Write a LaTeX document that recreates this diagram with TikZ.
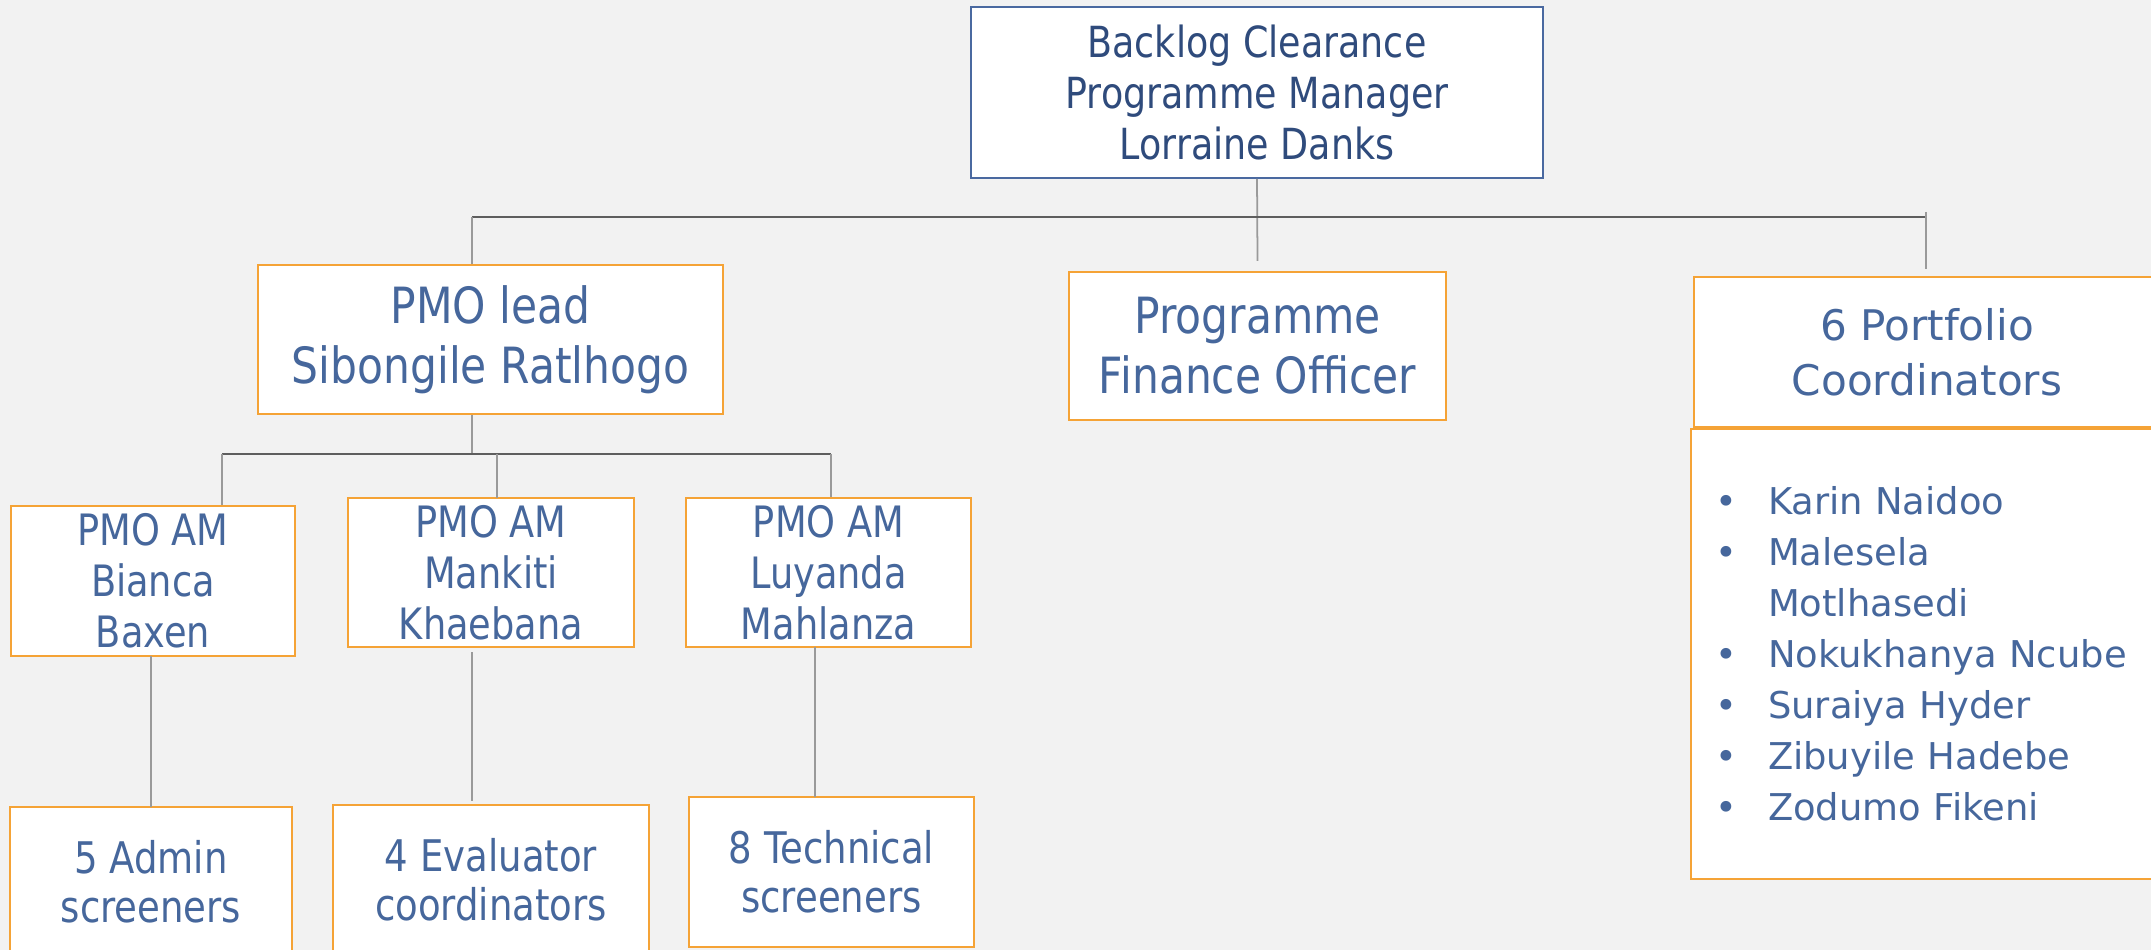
\documentclass[tikz,border=0pt]{standalone}
\usepackage{fontspec}
\setmainfont{DejaVu Sans}
\newfontfamily\narrowfont{DejaVu Sans}[FakeStretch=0.85]
\definecolor{bgcol}{HTML}{F2F2F2}
\definecolor{txtcol}{HTML}{46679C}
\definecolor{navycol}{HTML}{2F4B7C}
\definecolor{orangecol}{HTML}{F5A336}
\definecolor{topcol}{HTML}{4A69A0}
\definecolor{linecol}{HTML}{9A9A9A}
\definecolor{buscol}{HTML}{5E5E5E}
\begin{document}
\begin{tikzpicture}[
    box/.style={draw=orangecol, line width=0.6pt, fill=white, text=txtcol, align=center, inner sep=0pt},
    link/.style={draw=linecol, line width=0.5pt},
    bus/.style={draw=buscol, line width=0.8pt}]
\useasboundingbox (0,0) rectangle (21.51,-9.50);
\clip (0,0) rectangle (21.51,-9.50);
\fill[bgcol] (0,0) rectangle (21.51,-9.50);

%\draw[help lines] (0,0) grid (21.51,-9.50);

\node[box, draw=topcol, line width=0.5pt, text=navycol, minimum width=5.72cm, minimum height=1.71cm,
      font=\narrowfont\fontsize{12.2}{14.5}\selectfont] (top) at (12.57,-0.925)
      {Backlog Clearance\\Programme Manager\\Lorraine Danks};

\node[box, minimum width=4.65cm, minimum height=1.49cm,
      font=\narrowfont\fontsize{14.2}{17}\selectfont] (lead) at (4.905,-3.395)
      {PMO lead\\Sibongile Ratlhogo};
\node[box, minimum width=3.77cm, minimum height=1.48cm,
      font=\narrowfont\fontsize{14.2}{17}\selectfont] (fin) at (12.575,-3.46)
      {Programme\\Finance Officer};
\node[box, minimum width=4.66cm, minimum height=1.50cm,
      font=\fontsize{12}{15.6}\selectfont] (port) at (19.27,-3.52)
      {6 Portfolio\\Coordinators};
\node[box, align=left, minimum height=4.50cm, text width=4.21cm, inner xsep=0.24cm,
      font=\fontsize{10.5}{14.5}\selectfont] (names) at (19.255,-6.54)
      {\makebox[0.53cm][l]{•}Karin Naidoo\\
       \makebox[0.53cm][l]{•}Malesela\\
       \makebox[0.53cm][l]{}Motlhasedi\\
       \makebox[0.53cm][l]{•}Nokukhanya Ncube\\
       \makebox[0.53cm][l]{•}Suraiya Hyder\\
       \makebox[0.53cm][l]{•}Zibuyile Hadebe\\
       \makebox[0.53cm][l]{•}Zodumo Fikeni};

\node[box, minimum width=2.84cm, minimum height=1.50cm,
      font=\narrowfont\fontsize{12.3}{14.5}\selectfont] (bianca) at (1.53,-5.81)
      {PMO AM\\Bianca\\Baxen};
\node[box, minimum width=2.86cm, minimum height=1.49cm,
      font=\narrowfont\fontsize{12.3}{14.5}\selectfont] (mankiti) at (4.91,-5.725)
      {PMO AM\\Mankiti\\Khaebana};
\node[box, minimum width=2.85cm, minimum height=1.49cm,
      font=\narrowfont\fontsize{12.3}{14.5}\selectfont] (luyanda) at (8.285,-5.725)
      {PMO AM\\Luyanda\\Mahlanza};

\node[box, minimum width=2.82cm, minimum height=1.50cm,
      font=\narrowfont\fontsize{12.4}{14}\selectfont] (admin) at (1.51,-8.82)
      {5 Admin\\screeners};
\node[box, minimum width=3.16cm, minimum height=1.50cm,
      font=\narrowfont\fontsize{12.4}{14}\selectfont] (eval) at (4.91,-8.80)
      {4 Evaluator\\coordinators};
\node[box, minimum width=2.85cm, minimum height=1.50cm,
      font=\narrowfont\fontsize{12.4}{14}\selectfont] (tech) at (8.315,-8.72)
      {8 Technical\\screeners};

% top level
\coordinate (busL) at (4.72,-2.17);
\coordinate (busR) at (19.26,-2.17);
\draw[link] (top.south) -- ([yshift=0.1cm]fin.north);
\draw[bus] (busL) -- (busR);
\draw[link] (busL) -- (busL |- lead.north);
\draw[link] ([yshift=0.05cm]busR) -- ([yshift=0.07cm]busR |- port.north);

% PMO lead branch
\coordinate (subL) at (2.22,-4.54);
\coordinate (subR) at (8.31,-4.54);
\draw[link] (busL |- lead.south) -- (busL |- subL);
\draw[bus] (subL) -- (subR);
\draw[link] (subL) -- (subL |- bianca.north);
\draw[link] (4.97,-4.54) -- (4.97,-4.98);
\draw[link] (subR) -- (subR |- luyanda.north);

% bottom row
\draw[link] (1.51,-6.56) -- (1.51,-8.07);
\draw[link] (4.72,-6.52) -- (4.72,-8.01);
\draw[link] (8.15,-6.47) -- (8.15,-7.97);
\end{tikzpicture}
\end{document}
